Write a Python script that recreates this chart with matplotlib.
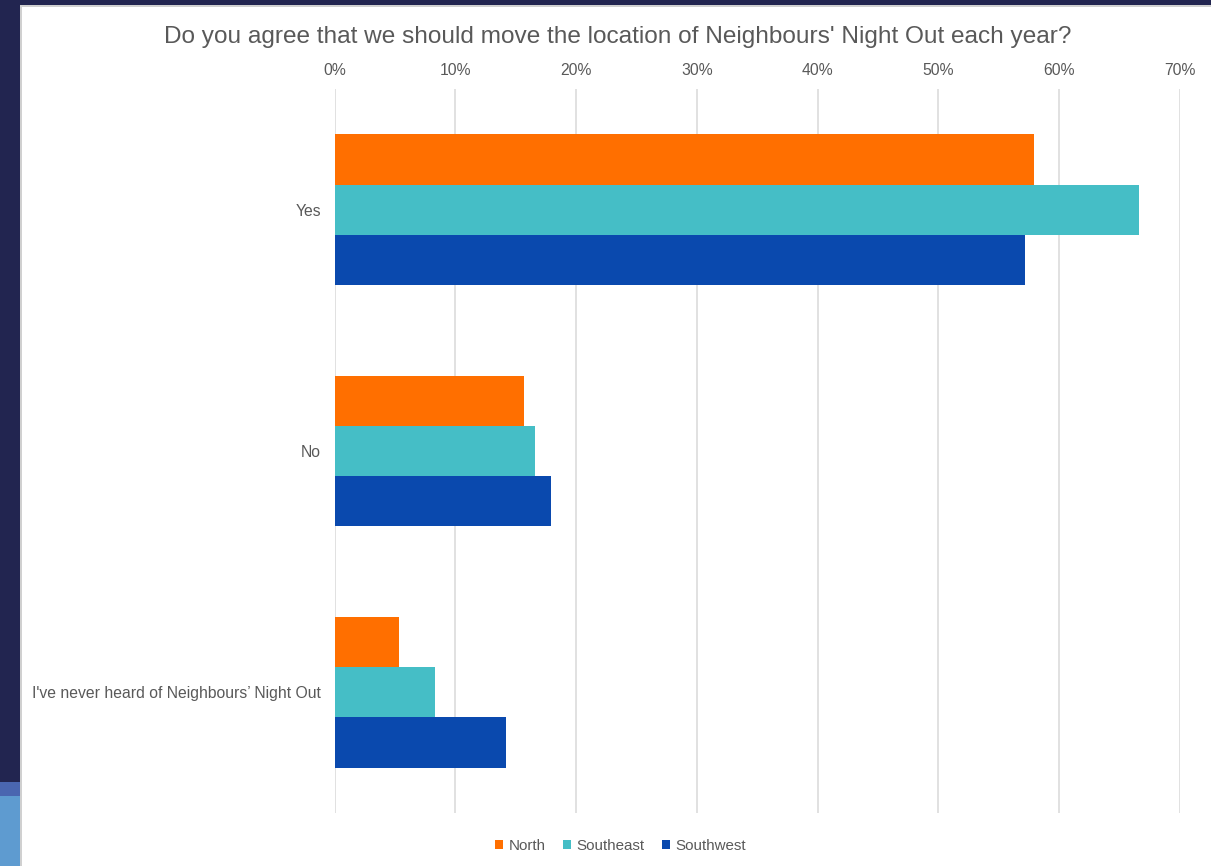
import numpy as np
import matplotlib.pyplot as plt
from matplotlib.patches import Rectangle

plt.rcParams['font.family'] = ['Liberation Sans', 'DejaVu Sans']

# Survey answers and share of respondents per area
categories = ['Yes', 'No', "I've never heard of Neighbours\u2019 Night Out"]
north = [0.579, 0.157, 0.053]
southeast = [0.666, 0.166, 0.083]
southwest = [0.572, 0.179, 0.142]
series_names = ['North', 'Southeast', 'Southwest']
colors = ['#FF6F00', '#45BEC6', '#0A49AE']
x_ticks = [0, 0.1, 0.2, 0.3, 0.4, 0.5, 0.6, 0.7]

W, H = 1211, 866
fig = plt.figure(figsize=(W / 100, H / 100), dpi=100)
fig.patch.set_facecolor('white')

# Slide frame around the chart
def px_rect(x0, y0, x1, y1, color, z=0):
    fig.patches.append(Rectangle((x0 / W, 1 - y1 / H), (x1 - x0) / W, (y1 - y0) / H,
                                 transform=fig.transFigure, facecolor=color,
                                 edgecolor='none', zorder=z))

px_rect(0, 0, W, 5, '#222550')
px_rect(0, 0, 20, 782, '#222550')
px_rect(0, 782, 20, 796, '#4A66B0')
px_rect(0, 796, 20, H, '#5E9BD0')
px_rect(20, 5, 21.5, H, '#D0D0D0')
px_rect(20, 5, W, 6.5, '#D0D0D0')

ax = fig.add_axes([334.7 / W, 1 - 813 / H, 845 / W, 724 / H])

y = np.arange(len(categories))
bar_h = 0.2077
for i, (vals, name, col) in enumerate(zip([north, southeast, southwest], series_names, colors)):
    ax.barh(y + (i - 1) * bar_h, vals, height=bar_h, color=col, label=name, zorder=2)

ax.set_xlim(0, 0.70)
ax.set_ylim(len(categories) - 0.5, -0.5)
ax.set_xticks(x_ticks)
ax.set_xticklabels([f'{int(round(t * 100))}%' for t in x_ticks])
ax.xaxis.tick_top()
ax.tick_params(axis='x', length=0, pad=8, labelsize=11.3, labelcolor='#595959')
ax.set_yticks(y)
ax.set_yticklabels(categories)
ax.tick_params(axis='y', length=0, pad=10, labelsize=11.35, labelcolor='#595959')
ax.grid(axis='x', color='#D9D9D9', linewidth=1.1, zorder=0)
ax.set_axisbelow(True)
for s in ax.spines.values():
    s.set_visible(False)

fig.text(617.5 / W, 1 - 37 / H, "Do you agree that we should move the location of Neighbours' Night Out each year?",
         ha='center', va='center', fontsize=17.6, color='#595959')

handles, labels = ax.get_legend_handles_labels()
fig.legend(handles, labels, loc='center', bbox_to_anchor=(620.5 / W, 1 - 846 / H), ncol=3,
           frameon=False, fontsize=10.9, labelcolor='#595959', handlelength=0.55,
           handleheight=0.55, handletextpad=0.35, columnspacing=1.15)

fig.savefig('out.png', dpi=100)
